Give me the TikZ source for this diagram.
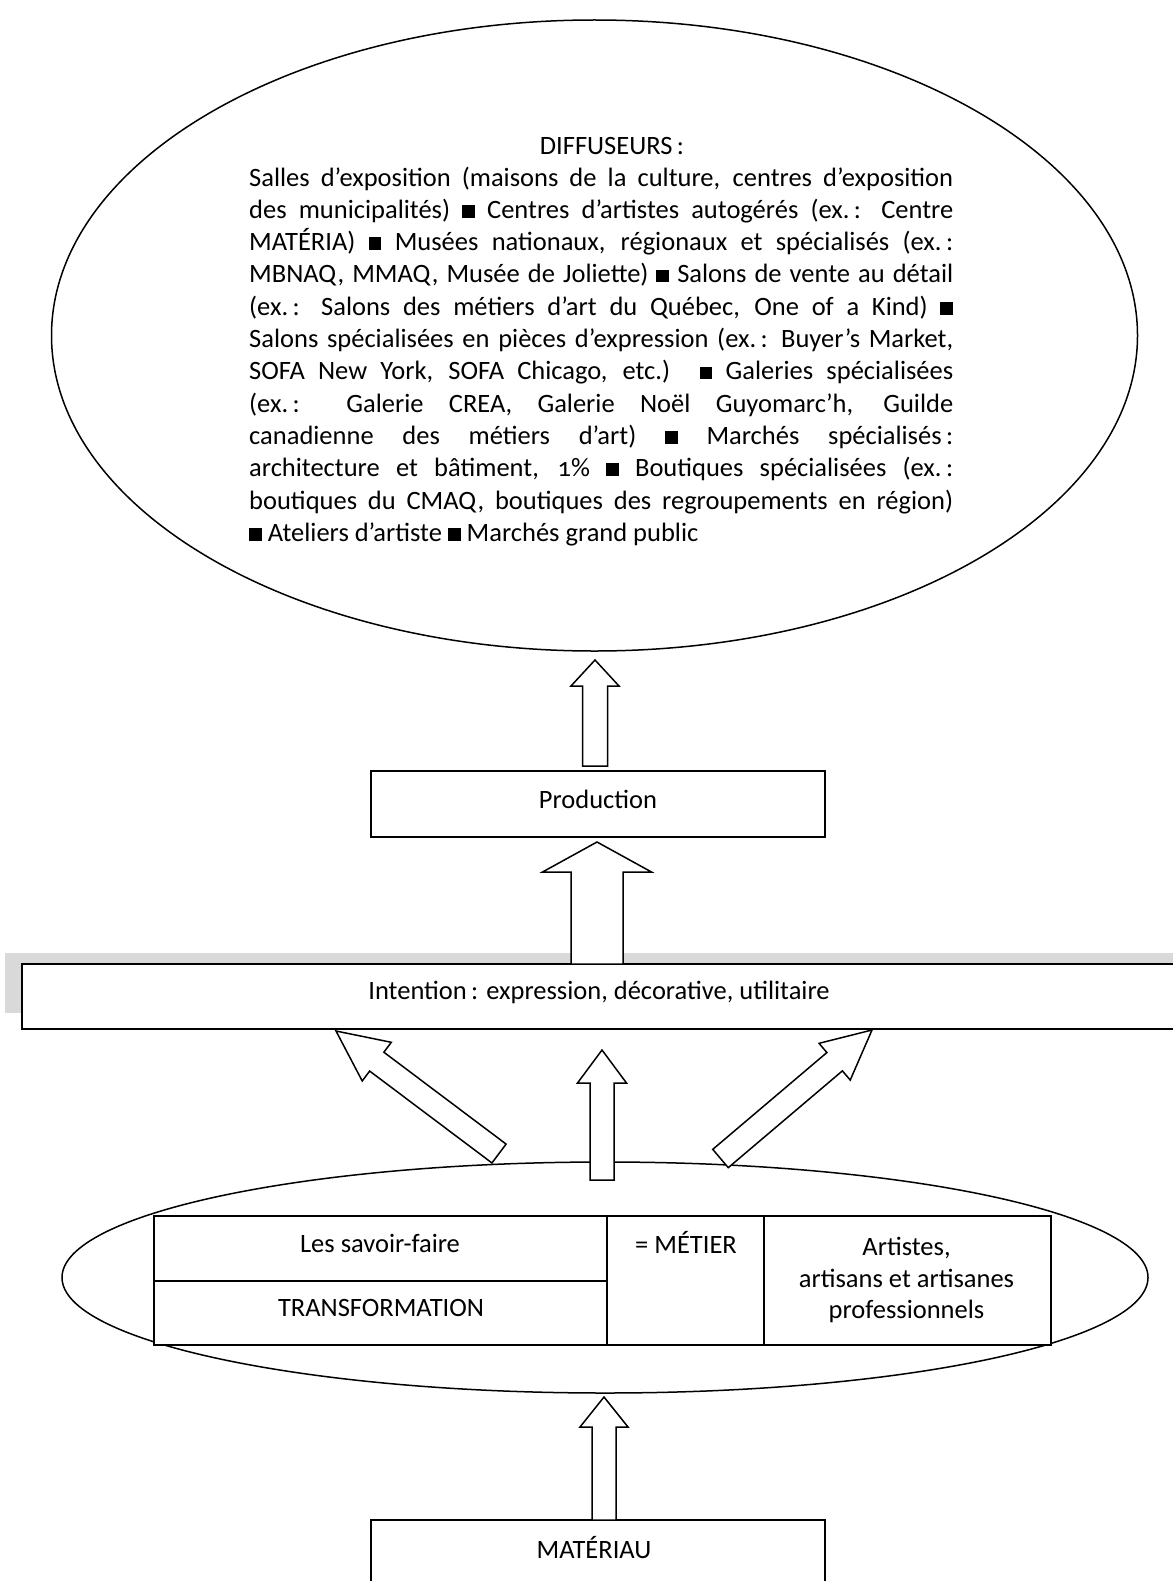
\documentclass[tikz,border=0pt]{standalone}
\usepackage{fontspec}
\setmainfont{Carlito}
\usetikzlibrary{calc,shapes.geometric}
\newcommand\fs{\fontsize{26.5pt}{32.3pt}\selectfont}
\newcommand\sqb{\rule[0.02em]{0.48em}{0.48em}}
\newcommand\blockarr[5]{%
  \coordinate (ba-h) at ($(#2)!#5!(#1)$);
  \draw[blockarrow] ($(#1)!#3!90:(#2)$) -- ($(ba-h)!#3!90:(#2)$) -- ($(ba-h)!#4!90:(#2)$) -- (#2)
     -- ($(ba-h)!#4!-90:(#2)$) -- ($(ba-h)!#3!-90:(#2)$) -- ($(#1)!#3!-90:(#2)$) -- cycle;
}
\tikzset{
  boxstyle/.style={draw, line width=1.8pt, rectangle, fill=white, inner sep=0pt},
  ellstyle/.style={draw, line width=1.5pt, ellipse, inner sep=0pt},
  blockarrow/.style={draw, fill=white, line width=1.5pt, line join=miter},
  txt/.style={font=\fs, inner sep=0pt},
  jline/.style={font=\fs, inner sep=0pt, anchor=base west},
}
\begin{document}
\begin{tikzpicture}[x=1pt,y=-1pt]
\useasboundingbox (0,0) rectangle (1172,1581);
\fill[white] (0,0) rectangle (1172,1581);

% ---- big ellipse: diffuseurs
\node[ellstyle, minimum width=1086pt, minimum height=631pt] (diff) at (594.5,335.5) {};
\node[txt] (dtitle) at (612,146) {DIFFUSEURS\,:};
\node[jline] (l1) at (249,186) {\makebox[704pt][s]{Salles d’exposition (maisons de la culture, centres d’exposition}};
\node[jline] (l2) at (249,218.3) {\makebox[704pt][s]{des municipalités) \sqb{} Centres d’artistes autogérés (ex.\,: Centre}};
\node[jline] (l3) at (249,250.6) {\makebox[704pt][s]{MATÉRIA) \sqb{} Musées nationaux, régionaux et spécialisés (ex.\,:}};
\node[jline] (l4) at (249,282.9) {\makebox[704pt][s]{MBNAQ, MMAQ, Musée de Joliette) \sqb{} Salons de vente au détail}};
\node[jline] (l5) at (249,315.2) {\makebox[704pt][s]{(ex.\,: Salons des métiers d’art du Québec, One of a Kind) \sqb}};
\node[jline] (l6) at (249,347.5) {\makebox[704pt][s]{Salons spécialisées en pièces d’expression (ex.\,: Buyer’s Market,}};
\node[jline] (l7) at (249,379.8) {\makebox[704pt][s]{SOFA New York, SOFA Chicago, etc.) \sqb{} Galeries spécialisées}};
\node[jline] (l8) at (249,412.1) {\makebox[704pt][s]{(ex.\,: Galerie CREA, Galerie Noël Guyomarc’h, Guilde}};
\node[jline] (l9) at (249,444.4) {\makebox[704pt][s]{canadienne des métiers d’art) \sqb{} Marchés spécialisés\,:}};
\node[jline] (l10) at (249,476.7) {\makebox[704pt][s]{architecture et bâtiment, {\addfontfeature{Numbers=OldStyle}1}\% \sqb{} Boutiques spécialisées (ex.\,:}};
\node[jline] (l11) at (249,509) {\makebox[704pt][s]{boutiques du CMAQ, boutiques des regroupements en région)}};
\node[jline] (l12) at (249,541.3) {\sqb{} Ateliers d’artiste \sqb{} Marchés grand public};

% ---- production
\node[boxstyle, minimum width=454pt, minimum height=66pt] (prod) at (598,804) {};
\node[txt] (prodt) at (598,799) {Production};

% ---- intention with grey shadow
\fill[gray!30] (5,953) rectangle (1190,1013);
\node[boxstyle, minimum width=1168pt, minimum height=65pt] (intent) at (606,996.5) {};
\node[txt] (intentt) at (599,992) {Intention\,: expression, décorative, utilitaire};

% ---- bottom ellipse with table
\node[ellstyle, minimum width=1086pt, minimum height=231pt] (metier) at (605,1277.5) {};
\draw[boxstyle] (154,1216) rectangle (607,1281);
\draw[boxstyle] (154,1281) rectangle (607,1345);
\draw[boxstyle] (607,1216) rectangle (764,1345);
\draw[boxstyle] (764,1216) rectangle (1051,1345);
\node[txt] (savoir) at (380,1243) {Les savoir-faire};
\node[txt] (transf) at (381,1308) {TRANSFORMATION};
\node[txt] (met) at (686,1242) {= MÉTIER};
\node[txt, align=center] (art) at (906.5,1280) {Artistes,\\[-0.5pt]artisans et artisanes\\[-0.5pt]professionnels};

% ---- materiau
\node[boxstyle, minimum width=454pt, minimum height=120pt] (mat) at (598,1580) {};
\node[txt] (matt) at (594,1548) {MATÉRIAU};

% ---- block arrows
\coordinate (a1s) at (595,766);  \coordinate (a1t) at (595,660);
\blockarr{a1s}{a1t}{12.5pt}{24pt}{26pt}
\coordinate (a2s) at (597,964);  \coordinate (a2t) at (597,842);
\blockarr{a2s}{a2t}{26pt}{54.5pt}{30pt}
\coordinate (a3s) at (499,1153.5); \coordinate (a3t) at (336,1031);
\blockarr{a3s}{a3t}{11.8pt}{24.2pt}{51pt}
\coordinate (a4s) at (602,1180); \coordinate (a4t) at (602,1050);
\blockarr{a4s}{a4t}{12pt}{24.5pt}{33pt}
\coordinate (a5s) at (720.5,1158.5); \coordinate (a5t) at (872,1030);
\blockarr{a5s}{a5t}{12pt}{24.1pt}{49pt}
\coordinate (a6s) at (604,1520); \coordinate (a6t) at (604,1397);
\blockarr{a6s}{a6t}{12pt}{24pt}{30pt}
\end{tikzpicture}
\end{document}
